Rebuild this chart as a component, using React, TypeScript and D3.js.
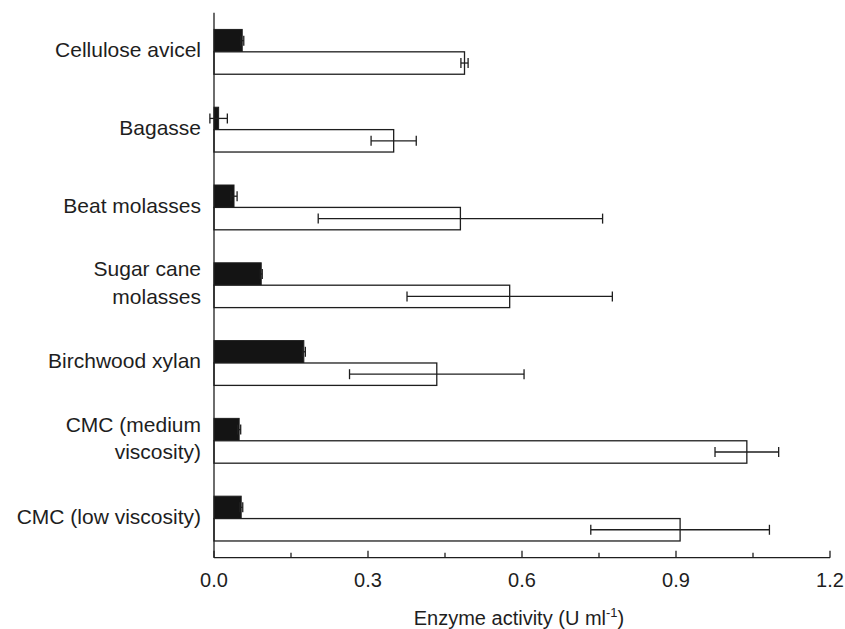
import React, { useEffect, useRef } from "react";
import * as d3 from "d3";

const categories = [
  "Cellulose avicel",
  "Bagasse",
  "Beat molasses",
  "Sugar cane molasses",
  "Birchwood xylan",
  "CMC (medium viscosity)",
  "CMC (low viscosity)",
];
const labelLines = [
  ["Cellulose avicel"],
  ["Bagasse"],
  ["Beat molasses"],
  ["Sugar cane", "molasses"],
  ["Birchwood xylan"],
  ["CMC (medium", "viscosity)"],
  ["CMC (low viscosity)"],
];
const blackValues = [0.055, 0.009, 0.039, 0.092, 0.175, 0.049, 0.053];
const blackErrors = [0.003, 0.017, 0.006, 0.002, 0.003, 0.003, 0.003];
const whiteValues = [0.488, 0.35, 0.48, 0.576, 0.434, 1.038, 0.908];
const whiteErrors = [0.007, 0.044, 0.277, 0.2, 0.17, 0.062, 0.174];
const majorTicks = [0, 0.3, 0.6, 0.9, 1.2];
const minorTicks = [0.15, 0.45, 0.75, 1.05];

const App = () => {
  const chartRef = useRef<SVGSVGElement>(null);

  useEffect(() => {
    const width = 845;
    const height = 629;
    const left = 214;
    const right = 830;
    const top = 12.7;
    const bottom = 557.7;
    const ink = "#1e1e1e";
    const font = "'Liberation Sans', Arial, Helvetica, sans-serif";

    const svg = d3.select(chartRef.current).attr("width", width).attr("height", height);
    svg.selectAll("*").remove();

    const x = d3.scaleLinear().domain([0, 1.2]).range([left, right]);
    const y = d3
      .scaleBand()
      .domain(categories)
      .range([top, bottom])
      .paddingInner(0.424)
      .paddingOuter(0.215)
      .align(0.5);
    const half = y.bandwidth() / 2;

    const rows = categories.map((c, i) => ({
      c,
      i,
      b: blackValues[i],
      be: blackErrors[i],
      w: whiteValues[i],
      we: whiteErrors[i],
    }));

    // black bars
    svg
      .selectAll(".bar-black")
      .data(rows)
      .enter()
      .append("rect")
      .attr("x", x(0))
      .attr("y", (d) => y(d.c)!)
      .attr("width", (d) => x(d.b) - x(0))
      .attr("height", half)
      .attr("fill", "#141414")
      .attr("stroke", ink)
      .attr("stroke-width", 1);

    // white bars
    svg
      .selectAll(".bar-white")
      .data(rows)
      .enter()
      .append("rect")
      .attr("x", x(0))
      .attr("y", (d) => y(d.c)! + half)
      .attr("width", (d) => x(d.w) - x(0))
      .attr("height", half)
      .attr("fill", "#fff")
      .attr("stroke", ink)
      .attr("stroke-width", 1.3);

    // error bars
    const errs = rows.flatMap((d) => [
      { v: d.b, e: d.be, cy: y(d.c)! + half / 2 },
      { v: d.w, e: d.we, cy: y(d.c)! + half * 1.5 },
    ]);
    const eg = svg.append("g").attr("stroke", ink).attr("stroke-width", 1.3);
    errs.forEach((d) => {
      eg.append("line")
        .attr("x1", x(d.v - d.e))
        .attr("x2", x(d.v + d.e))
        .attr("y1", d.cy)
        .attr("y2", d.cy);
      [d.v - d.e, d.v + d.e].forEach((v) => {
        eg.append("line")
          .attr("x1", x(v))
          .attr("x2", x(v))
          .attr("y1", d.cy - 5)
          .attr("y2", d.cy + 5);
      });
    });

    // axes
    svg
      .append("line")
      .attr("x1", left)
      .attr("x2", left)
      .attr("y1", top)
      .attr("y2", bottom)
      .attr("stroke", ink)
      .attr("stroke-width", 1.3);
    svg
      .append("line")
      .attr("x1", left)
      .attr("x2", right)
      .attr("y1", bottom)
      .attr("y2", bottom)
      .attr("stroke", ink)
      .attr("stroke-width", 1.3);

    svg
      .selectAll(".major")
      .data(majorTicks)
      .enter()
      .append("line")
      .attr("x1", (d) => x(d))
      .attr("x2", (d) => x(d))
      .attr("y1", bottom)
      .attr("y2", bottom - 7)
      .attr("stroke", ink)
      .attr("stroke-width", 1.3);
    svg
      .selectAll(".minor")
      .data(minorTicks)
      .enter()
      .append("line")
      .attr("x1", (d) => x(d))
      .attr("x2", (d) => x(d))
      .attr("y1", bottom)
      .attr("y2", bottom - 5)
      .attr("stroke", ink)
      .attr("stroke-width", 1.3);

    svg
      .selectAll(".tick-label")
      .data(majorTicks)
      .enter()
      .append("text")
      .attr("x", (d) => x(d))
      .attr("y", bottom + 29)
      .attr("text-anchor", "middle")
      .style("font-family", font)
      .style("font-size", "20px")
      .attr("fill", ink)
      .text((d) => d3.format(".1f")(d));

    // category labels
    rows.forEach((d) => {
      const lines = labelLines[d.i];
      const cy = y(d.c)! + y.bandwidth() / 2;
      const t = svg
        .append("text")
        .attr("text-anchor", "end")
        .style("font-family", font)
        .style("font-size", "21px")
        .attr("fill", ink);
      lines.forEach((ln, k) => {
        const base = lines.length === 1 ? cy + 5.5 : cy - 9 + k * 27.5;
        t.append("tspan").attr("x", 201).attr("y", base).text(ln);
      });
    });

    // axis title
    const title = svg
      .append("text")
      .attr("x", (left + right) / 2 - 3)
      .attr("y", 625)
      .attr("text-anchor", "middle")
      .style("font-family", font)
      .style("font-size", "20px")
      .attr("fill", ink);
    title.append("tspan").text("Enzyme activity (U ml");
    title.append("tspan").attr("dy", -8).style("font-size", "13px").text("-1");
    title.append("tspan").attr("dy", 8).text(")");
  }, []);

  return (
    <svg
      ref={chartRef}
      style={{ position: "absolute", left: 0, top: 0, display: "block", background: "#fff" }}
    />
  );
};

export default App;
